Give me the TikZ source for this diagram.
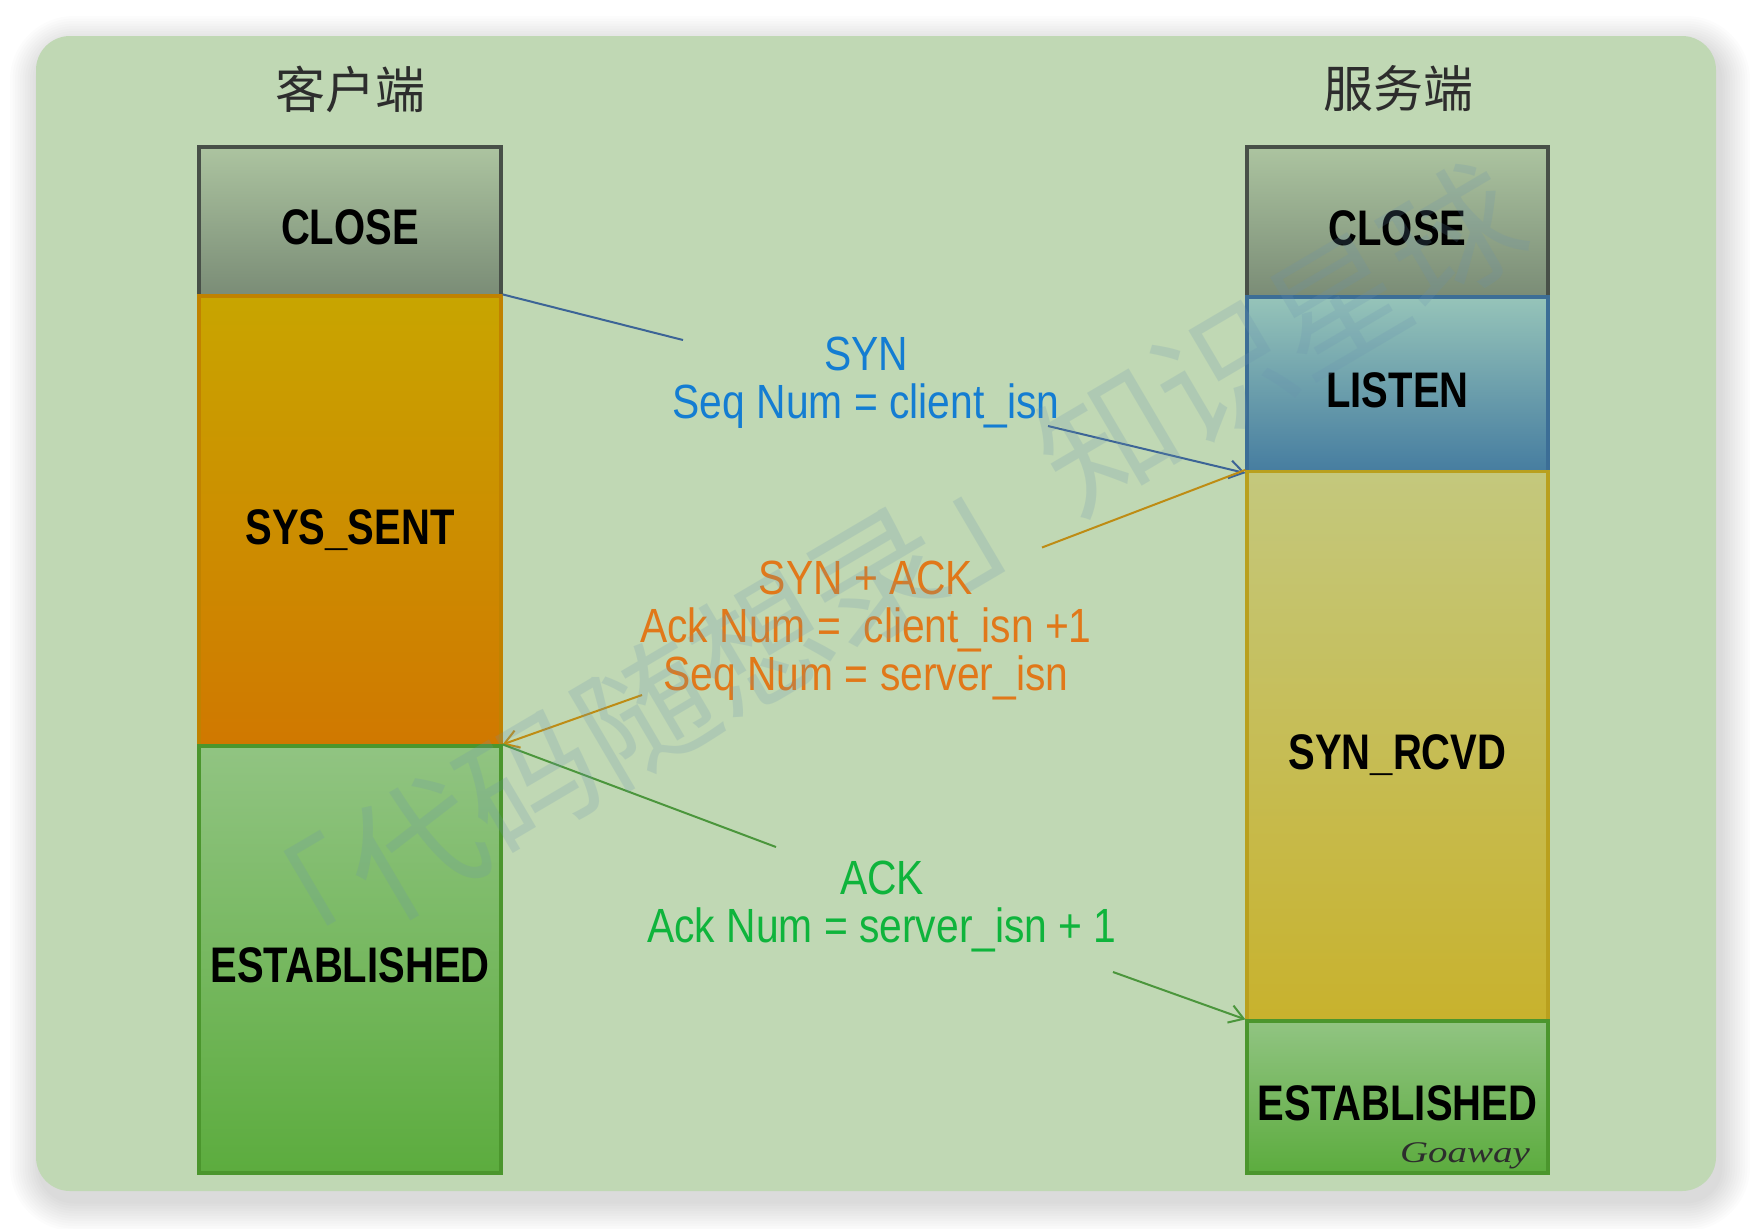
\documentclass[tikz,border=0pt]{standalone}
\usepackage{fontspec}
\setmainfont{Liberation Sans}
\newfontfamily\cjk{Noto Sans CJK SC}
\newfontfamily\statefont{Liberation Sans}[FakeStretch=0.8]
\newfontfamily\msgfont{Liberation Sans}[FakeStretch=0.85]
\newfontfamily\signfont{Liberation Serif}[FakeStretch=1.3]
\usetikzlibrary{arrows.meta}
\definecolor{bgc}{RGB}{192,216,180}
\definecolor{closeT}{RGB}{172,196,160}
\definecolor{closeB}{RGB}{122,140,118}
\definecolor{closeD}{RGB}{72,80,72}
\definecolor{sentT}{RGB}{200,165,0}
\definecolor{sentB}{RGB}{208,120,0}
\definecolor{sentD}{RGB}{192,130,0}
\definecolor{estT}{RGB}{145,196,130}
\definecolor{estB}{RGB}{92,172,62}
\definecolor{estD}{RGB}{75,150,45}
\definecolor{listT}{RGB}{150,196,185}
\definecolor{listB}{RGB}{70,125,160}
\definecolor{listD}{RGB}{60,110,150}
\definecolor{rcvdT}{RGB}{196,200,125}
\definecolor{rcvdB}{RGB}{200,178,45}
\definecolor{rcvdD}{RGB}{185,160,30}
\definecolor{blueline}{RGB}{60,100,150}
\definecolor{orangeline}{RGB}{190,140,20}
\definecolor{greenline}{RGB}{75,150,60}
\definecolor{synblue}{RGB}{20,125,210}
\definecolor{ackorange}{RGB}{225,120,25}
\definecolor{ackgreen}{RGB}{15,180,60}
\definecolor{titlec}{RGB}{45,45,45}
\definecolor{wmc}{RGB}{105,145,175}
\tikzset{
  stbox/.style={rectangle, minimum width=151pt, inner sep=0pt, line width=1.6pt,
    text height=23pt, text depth=0pt,
    font=\statefont\bfseries\fontsize{25}{25}\selectfont, text=black},
  rbox/.style={stbox, minimum width=150.5pt},
  msg/.style={align=center, inner sep=0pt, font=\msgfont\fontsize{24}{24}\selectfont},
  titletext/.style={inner sep=0pt, text=titlec, font=\cjk\fontsize{25}{25}\selectfont},
  conn/.style={line width=1pt},
  arrowtip/.style={-{Straight Barb[length=7pt,width=9pt,line width=1pt]}}
}
\begin{document}
\begin{tikzpicture}[x=0.5pt,y=-0.5pt]
\useasboundingbox (0,0) rectangle (1752,1228);
\fill[white] (0,0) rectangle (1752,1228);
% soft shadow
\foreach \i in {1,...,12}{
  \pgfmathsetmacro\e{\i*2.5}
  \fill[black, opacity=0.012, rounded corners={17pt+\e*0.5pt}]
    ({36-\e+4},{36-\e+10}) rectangle ({1716+\e+4},{1191+\e+10});
}
\fill[bgc, rounded corners=17pt] (36,36) rectangle (1716,1191);

% titles
\node[titletext] (ctitle) at (350,89) {客户端};
\node[titletext] (stitle) at (1398,89) {服务端};

% client column
\node[stbox, minimum height=74.5pt, top color=closeT, bottom color=closeB, draw=closeD] (cclose) at (350,221.5) {CLOSE};
\node[stbox, minimum height=225pt, top color=sentT, bottom color=sentB, draw=sentD] (csent) at (350,521) {SYS\_SENT};
\node[stbox, minimum height=213.5pt, top color=estT, bottom color=estB, draw=estD] (cest) at (350,959.5) {ESTABLISHED};

% server column
\node[rbox, minimum height=75pt, top color=closeT, bottom color=closeB, draw=closeD] (sclose) at (1397.5,222) {CLOSE};
\node[rbox, minimum height=87.25pt, top color=listT, bottom color=listB, draw=listD] (slisten) at (1397.5,384.25) {LISTEN};
\node[rbox, minimum height=274.75pt, top color=rcvdT, bottom color=rcvdB, draw=rcvdD] (srcvd) at (1397.5,746.25) {SYN\_RCVD};
\node[rbox, minimum height=76pt, top color=estT, bottom color=estB, draw=estD] (sest) at (1397.5,1097) {ESTABLISHED};
\node[inner sep=0pt, text=titlec, font=\signfont\itshape\fontsize{15}{15}\selectfont] (sign) at (1465,1156) {Goaway};

% messages
\node[msg, text=synblue] (msyn) at (866,383) {SYN\\Seq Num = client\_isn};
\node[msg, text=ackorange] (msynack) at (866,631) {SYN + ACK\\Ack Num =\ \ client\_isn +1\\Seq Num = server\_isn};
\node[msg, text=ackgreen] (mack) at (882,906) {ACK\\Ack Num = server\_isn + 1};

% connectors
\coordinate (b1) at (683,340);
\coordinate (b2) at (1048,426);
\coordinate (o1) at (1042,547.5);
\coordinate (o2) at (642,695);
\coordinate (g1) at (776,847);
\coordinate (g2) at (1113,972);
\draw[conn, blueline] (csent.north east) -- (b1);
\draw[conn, blueline, arrowtip] (b2) -- (slisten.south west);
\draw[conn, orangeline] (srcvd.north west) -- (o1);
\draw[conn, orangeline, arrowtip] (o2) -- (cest.north east);
\draw[conn, greenline] (cest.north east) -- (g1);
\draw[conn, greenline, arrowtip] (g2) -- (sest.north west);

% watermark
\node[inner sep=0pt, rotate=30.5, text=wmc, text opacity=0.2, font=\cjk\fontsize{67}{67}\selectfont] (wm) at (876,576) {「代码随想录」知识星球};
\end{tikzpicture}
\end{document}
